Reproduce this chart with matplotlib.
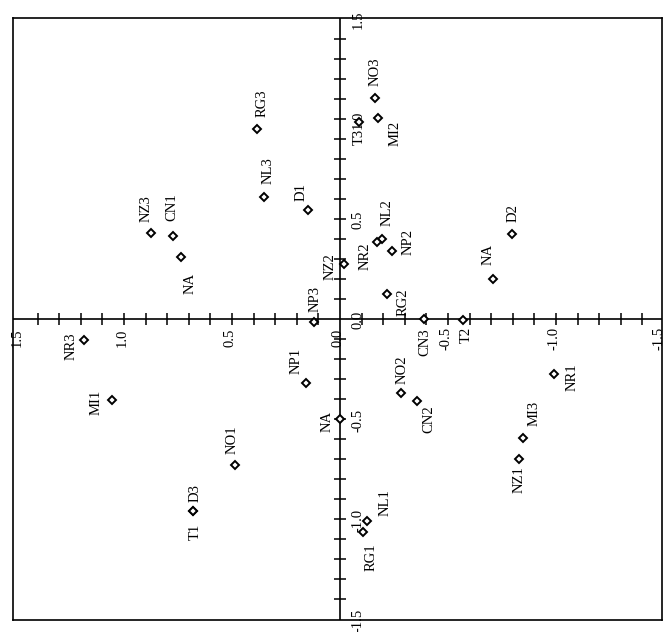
import numpy as np
import matplotlib
matplotlib.use("Agg")
import matplotlib.pyplot as plt

# ---- data ----
labels = ["RG3", "NL3", "D1", "NZ3", "CN1", "NA", "NZ2", "NP3", "NO3", "MI2", "T3",
          "NL2", "NR2", "NP2", "RG2", "NA", "D2", "CN3", "T2",
          "NR3", "MI1", "NO1", "D3", "T1", "NP1", "NA",
          "NO2", "CN2", "NR1", "MI3", "NZ1", "NL1", "RG1"]
x_vals = [0.384, 0.352, 0.148, 0.875, 0.773, 0.736, -0.019, 0.120, -0.162, -0.176, -0.088,
          -0.194, -0.171, -0.240, -0.218, -0.708, -0.796, -0.389, -0.570,
          1.185, 1.056, 0.486, 0.680, 0.680, 0.157, 0.000,
          -0.282, -0.356, -0.990, -0.847, -0.829, -0.125, -0.106]
y_vals = [0.950, 0.610, 0.545, 0.430, 0.415, 0.310, 0.275, -0.015, 1.105, 1.005, 0.985,
          0.400, 0.385, 0.340, 0.125, 0.200, 0.425, 0.000, -0.005,
          -0.105, -0.405, -0.730, -0.960, -0.960, -0.320, -0.500,
          -0.370, -0.410, -0.275, -0.595, -0.700, -1.010, -1.065]
tick_labels = ["1.5", "1.0", "0.5", "0.0", "-0.5", "-1.0", "-1.5"]
tick_values = [1.5, 1.0, 0.5, 0.0, -0.5, -1.0, -1.5]

# label placement offsets (pixels: right, up)
label_offsets = [(5, 26), (4, 26), (-7, 18), (-5, 24), (-1, 29), (9, -26), (-14, -3), (1, 23),
                 (0, 26), (17, -15), (0, -15),
                 (5, 26), (-12, -14), (16, 9), (16, -8), (-5, 25), (1, 21), (1, -23), (3, -15),
                 (-13, -6), (-16, -2), (-3, 25), (2, 18), (2, -21), (-10, 22), (-13, -2),
                 (1, 23), (12, -18), (18, -3), (11, 25), (0, -21), (18, 18), (8, -25)]

plt.rcParams["font.family"] = ["Liberation Serif", "DejaVu Serif"]

fig = plt.figure(figsize=(6.66, 6.32), dpi=100)
ax = fig.add_axes([13 / 666, 12 / 632, 649 / 666, 602 / 632])
ax.set_xlim(1.514, -1.491)
ax.set_ylim(-1.505, 1.505)
ax.set_xticks([])
ax.set_yticks([])
for sp in ax.spines.values():
    sp.set_linewidth(1.2)
    sp.set_color("black")

# central axes
ax.axhline(0, color="black", lw=1.2, zorder=2)
ax.axvline(0, color="black", lw=1.2, zorder=2)
ticks = np.round(np.arange(-1.4, 1.41, 0.1), 2)
ticks = ticks[ticks != 0]
ax.plot(ticks, np.zeros_like(ticks), linestyle="none", marker="|", markersize=8.5,
        markeredgewidth=1.1, color="black", zorder=2)
ax.plot(np.zeros_like(ticks), ticks, linestyle="none", marker="_", markersize=8.5,
        markeredgewidth=1.1, color="black", zorder=2)

# tick labels
fs_tick = 10.5
for v, t in zip(tick_values, tick_labels):
    xoff = -2
    if v == 1.5:
        xoff = 1
    elif v == -1.5:
        xoff = -5
    ax.annotate(t, (v, 0), xytext=(xoff, -19), textcoords="offset pixels",
                rotation=90, ha="center", va="center", fontsize=fs_tick,
                annotation_clip=False, zorder=3)
    ax.annotate(t, (0, v), xytext=(18, -1), textcoords="offset pixels",
                rotation=90, ha="center", va="center", fontsize=fs_tick,
                annotation_clip=False, zorder=3)

# points
ax.plot(x_vals, y_vals, linestyle="none", marker="D", markersize=4.2,
        markerfacecolor="white", markeredgecolor="black", markeredgewidth=1.4,
        zorder=4, clip_on=False)

for lab, xv, yv, (dx, dy) in zip(labels, x_vals, y_vals, label_offsets):
    ax.annotate(lab, (xv, yv), xytext=(dx, dy), textcoords="offset pixels",
                rotation=90, ha="center", va="center", fontsize=10.5, zorder=5)

fig.savefig("out.png", dpi=100, facecolor="white")
